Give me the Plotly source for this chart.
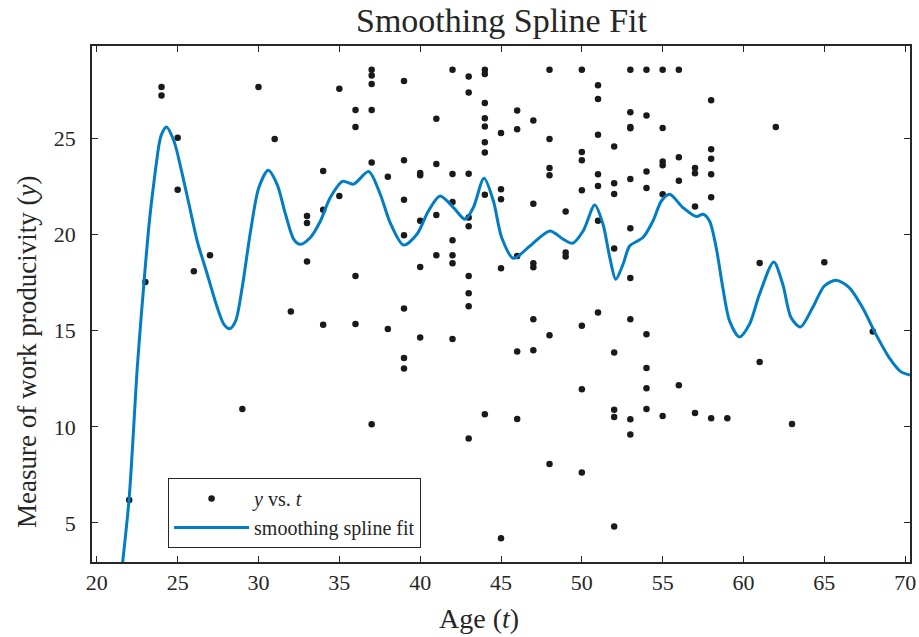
import plotly.graph_objects as go

# ---------------- data ----------------
ages = [22, 23, 24, 24, 25, 25, 26, 27, 29, 30, 31, 32,
        33, 33, 33, 34, 34, 34, 35, 35,
        36, 36, 36, 36,
        37, 37, 37, 37, 37, 37,
        38, 38,
        39, 39, 39, 39, 39, 39, 39,
        40, 40, 40, 40, 40,
        41, 41, 41, 41,
        42, 42, 42, 42, 42, 42, 42,
        43, 43, 43, 43, 43, 43, 43, 43, 43,
        44, 44, 44, 44, 44, 44, 44, 44, 44,
        45, 45, 45, 45, 45,
        46, 46, 46, 46, 46,
        47, 47, 47, 47, 47, 47,
        48, 48, 48, 48, 48, 48,
        49, 49, 49,
        50, 50, 50, 50, 50, 50, 50,
        51, 51, 51, 51, 51, 51, 51,
        52, 52, 52, 52, 52, 52, 52, 52,
        53, 53, 53, 53, 53, 53, 53, 53, 53, 53,
        54, 54, 54, 54, 54, 54, 54, 54,
        55, 55, 55, 55, 55, 55,
        56, 56, 56, 56,
        57, 57, 57, 57,
        58, 58, 58, 58, 58, 58,
        59, 61, 61, 62, 63, 65, 68]

productivity = [6.2, 17.53, 27.67, 27.22, 25.03, 22.33, 18.09, 18.92, 10.93, 27.67, 24.96, 15.99,
                20.96, 20.6, 18.6, 23.3, 21.28, 15.3, 27.58, 22.0,
                26.47, 25.59, 17.84, 15.35,
                28.57, 28.27, 27.82, 26.47, 23.74, 10.13,
                23.0, 15.09,
                27.98, 23.86, 21.8, 19.96, 16.15, 13.58, 13.03,
                23.2, 23.08, 20.72, 18.31, 14.64,
                26.02, 23.66, 21.01, 18.92,
                28.57, 23.14, 21.69, 19.7, 18.92, 18.5, 14.57,
                28.22, 27.38, 23.16, 20.88, 20.43, 17.84, 16.94, 16.27, 9.39,
                28.57, 28.34, 26.84, 26.04, 25.62, 24.8, 24.26, 22.07, 10.65,
                25.27, 22.35, 21.83, 18.24, 4.2,
                26.44, 25.47, 18.88, 13.91, 10.41,
                25.92, 21.6, 18.5, 18.29, 15.59, 13.98,
                28.57, 24.96, 23.46, 23.08, 14.76, 8.07,
                21.2, 19.06, 18.85,
                28.57, 24.29, 23.86, 22.3, 15.26, 11.95, 7.62,
                27.76, 27.05, 25.19, 23.13, 22.52, 20.72, 15.94,
                24.58, 22.66, 22.1, 19.27, 13.86, 10.88, 10.51, 4.81,
                28.57, 26.35, 25.59, 25.52, 22.88, 20.32, 17.74, 15.59, 10.39, 9.6,
                28.57, 26.18, 23.27, 22.42, 14.81, 13.06, 12.0, 10.93,
                28.57, 25.53, 23.79, 23.6, 22.09, 10.56,
                28.57, 24.01, 22.8, 12.16,
                23.46, 23.18, 21.45, 10.72,
                26.98, 24.43, 23.94, 23.13, 21.93, 10.44,
                10.44, 18.52, 13.37, 25.59, 10.15, 18.55, 14.95]

fit_t = [21.4, 21.99, 22.51, 22.92, 23.23, 23.54, 23.85, 24.0, 24.30, 24.77, 25.19,
         25.70, 26.21, 26.83, 27.45, 27.86, 28.21, 28.58, 28.99, 29.51, 30.02,
         30.6, 31.15, 31.67, 32.18, 32.59, 33.21, 33.83, 34.44, 35.2, 35.88,
         36.81, 37.53, 38.15, 38.97, 39.8, 40.51, 41.23, 42.06, 42.78, 43.29,
         43.95, 44.53, 45.04, 45.76, 46.79, 48.02, 48.85, 49.42, 50.08, 50.8,
         51.31, 51.73, 52.1, 52.55, 52.96, 53.78, 54.4, 54.92, 55.43, 56.25,
         57.08, 57.49, 57.9, 58.31, 58.72, 59.14, 59.75, 60.37, 60.99, 61.87,
         62.43, 62.94, 63.52, 64.28, 65.0, 65.72, 66.54, 67.36, 68.19, 69.01,
         69.73, 70.3]
fit_y = [1.5, 6.2, 13.2, 17.55, 20.53, 22.78, 24.69, 25.2, 25.59, 24.86, 23.48,
         21.57, 19.66, 17.93, 16.2, 15.33, 15.1, 15.5, 17.24, 20.18, 22.44,
         23.34, 22.61, 21.05, 19.75, 19.49, 19.84, 20.7, 21.92, 22.76, 22.62,
         23.27, 22.09, 20.6, 19.45, 20.01, 21.22, 22.0, 21.4, 20.79, 21.4,
         22.92, 21.74, 19.84, 18.76, 19.4, 20.18, 19.75, 19.54, 20.18, 21.53,
         20.53, 18.8, 17.67, 18.45, 19.4, 19.84, 20.7, 21.74, 22.09, 21.4,
         20.93, 21.05, 20.7, 19.32, 17.24, 15.5, 14.67, 15.33, 16.89, 18.57,
         17.41, 15.68, 15.19, 16.2, 17.32, 17.62, 17.24, 16.2, 14.81, 13.6,
         12.87, 12.69]

x_ticks = [20, 25, 30, 35, 40, 45, 50, 55, 60, 65, 70]
y_ticks = [5, 10, 15, 20, 25]

FONT = "Liberation Serif"
AXC = "#262626"

fig = go.Figure()
fig.add_trace(go.Scatter(
    x=ages, y=productivity, mode="markers", name="<i>y</i> vs. <i>t</i>",
    marker=dict(color="#1a1a1a", size=6.5, line=dict(width=0)),
))
fig.add_trace(go.Scatter(
    x=fit_t, y=fit_y, mode="lines", name="smoothing spline fit",
    line=dict(color="#007DC4", width=3, shape="spline", smoothing=0.8),
))

fig.update_layout(
    width=919, height=637,
    margin=dict(l=92, r=9, t=46, b=75),
    paper_bgcolor="white", plot_bgcolor="white",
    font=dict(family=FONT, color="#262626", size=22),
    showlegend=True,
    legend=dict(
        x=0.093, y=0.163, xanchor="left", yanchor="top",
        bordercolor="#262626", borderwidth=1, bgcolor="white",
        font=dict(family=FONT, size=20, color="#262626"),
        tracegroupgap=0, itemwidth=75,
    ),
    xaxis=dict(
        range=[19.7, 70.3], tickvals=x_ticks, ticktext=[str(v) for v in x_ticks],
        showgrid=False, zeroline=False, showline=True, mirror="ticks",
        linecolor=AXC, linewidth=1.5, ticks="inside", ticklen=6,
        tickcolor=AXC, tickwidth=1, tickfont=dict(size=22, family=FONT, color="#262626"),
        ticklabelstandoff=0, automargin=False,
    ),
    yaxis=dict(
        range=[2.97, 29.8], tickvals=y_ticks, ticktext=[str(v) for v in y_ticks],
        showgrid=False, zeroline=False, showline=True, mirror="ticks",
        linecolor=AXC, linewidth=1.5, ticks="inside", ticklen=6,
        tickcolor=AXC, tickwidth=1, tickfont=dict(size=22, family=FONT, color="#262626"),
        ticklabelstandoff=10, automargin=False,
    ),
    annotations=[
        dict(text="Smoothing Spline Fit", xref="paper", yref="paper",
             x=0.5, y=1.0, yshift=26, showarrow=False, xanchor="center", yanchor="middle",
             font=dict(family=FONT, size=34, color="#262626")),
        dict(text="Age (<i>t</i>)", xref="paper", yref="paper",
             x=(479 - 92) / 818, y=0, yshift=-56, showarrow=False,
             xanchor="center", yanchor="middle",
             font=dict(family=FONT, size=28, color="#262626")),
        dict(text="Measure of work producivity (<i>y</i>)", xref="paper", yref="paper",
             x=0, xshift=-65, y=(562 - 352) / 516, showarrow=False, textangle=-90,
             xanchor="center", yanchor="middle",
             font=dict(family=FONT, size=27, color="#262626")),
    ],
)

fig.write_html("out.html",
               config={"displayModeBar": False},
               post_script="document.body.style.margin='0';document.body.style.padding='0';")
